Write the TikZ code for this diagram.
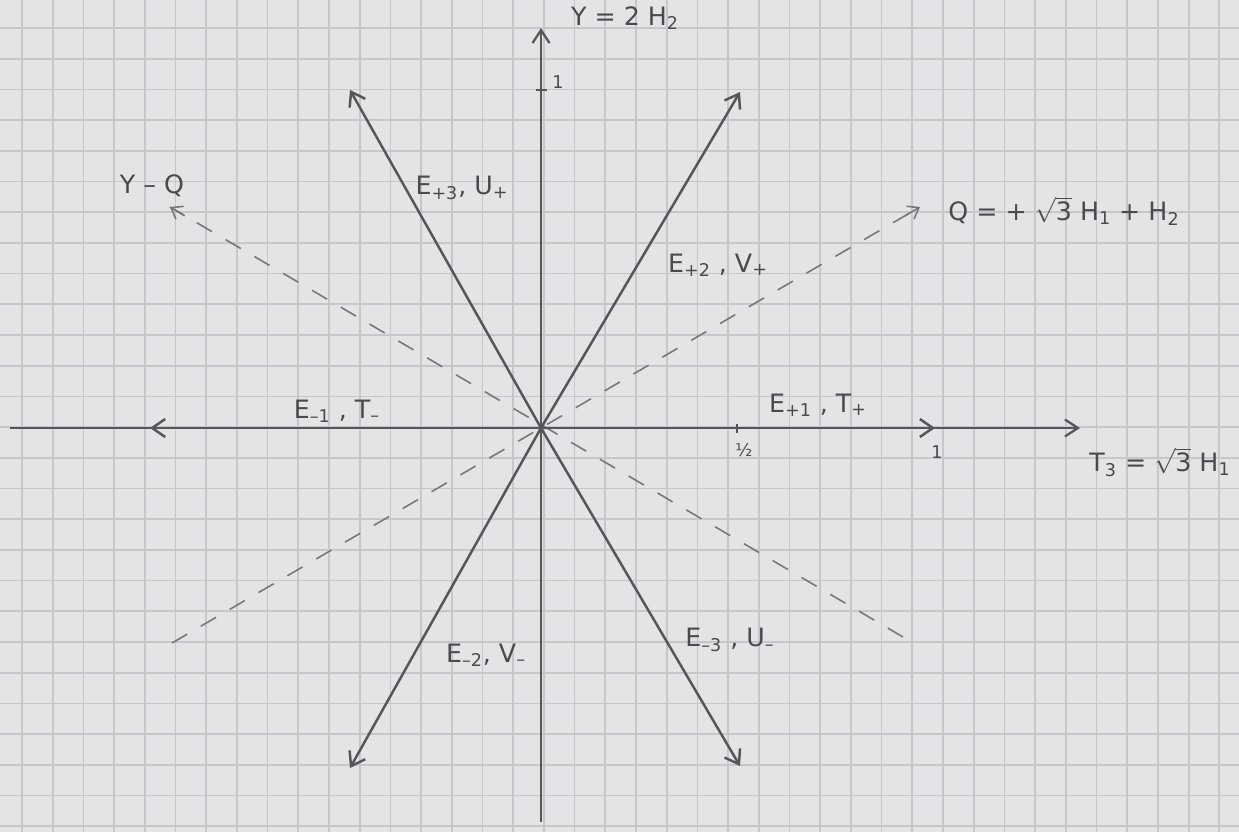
\documentclass[tikz,border=0pt]{standalone}
\usepackage{amsmath}
\usepackage{fontspec}
\setmainfont{DejaVu Sans}
\definecolor{paper}{HTML}{E4E4E7}
\definecolor{gridcol}{HTML}{C6C6CD}
\definecolor{pencil}{HTML}{55555A}
\definecolor{inkcol}{HTML}{4A4A4E}
\usetikzlibrary{arrows.meta,calc}

\tikzset{
  gridline/.style={gridcol, line width=1pt},
  axisline/.style={pencil, line width=1.3pt, -{Straight Barb[length=2.6mm,width=3.4mm]}},
  rootline/.style={pencil, line width=1.4pt, -{Straight Barb[length=2.6mm,width=3.6mm]}},
  chargeline/.style={pencil!80, line width=0.9pt, dash pattern=on 10pt off 9pt},
  lbl/.style={inkcol, font=\Large},
  ticklbl/.style={inkcol, font=\normalsize},
}

\begin{document}
\begin{tikzpicture}[x=0.02cm, y=-0.02cm]

% === Graph paper ===
\fill[paper] (0,0) rectangle (1239,832);
\useasboundingbox (0,0) rectangle (1239,832);
\foreach \i in {0,...,39}
  \draw[gridline] ({22+30.7*\i},0) -- ({22+30.7*\i},832);
\foreach \j in {0,...,26}
  \draw[gridline] (0,{28+30.7*\j}) -- (1239,{28+30.7*\j});

% === Axes ===
\coordinate (O) at (541,428);
\coordinate (xL) at (10,428);
\coordinate (xR) at (1080,428);
\coordinate (yB) at (541,822);
\coordinate (yT) at (541,28);
\draw[axisline] (xL) -- (xR);
\draw[axisline] (yB) -- (yT);

% === Charge directions (dashed) ===
\coordinate (qA) at (172,643);
\coordinate (qB) at (920,207);
\coordinate (yqA) at (903,637);
\coordinate (yqB) at (170,207);
\draw[chargeline] (qA) -- (qB);
\draw[chargeline] (yqA) -- (yqB);
\draw[pencil!80, line width=0.9pt, -{Straight Barb[length=2mm,width=3mm]}]
  ($(O)!0.96!(qB)$) -- (qB);
\draw[pencil!80, line width=0.9pt, -{Straight Barb[length=2mm,width=3mm]}]
  ($(O)!0.96!(yqB)$) -- (yqB);

% === Root vectors ===
\coordinate (e1p) at (935,428);
\coordinate (e1m) at (150,428);
\coordinate (e2p) at (740,92);
\coordinate (e2m) at (350,768);
\coordinate (e3p) at (350,90);
\coordinate (e3m) at (740,766);
\foreach \tip in {e1p,e1m,e2p,e2m,e3p,e3m}
  \draw[rootline] (O) -- (\tip);

% ticks
\draw[pencil, line width=1.2pt] (536,90) -- (547,90);
\draw[pencil, line width=1.2pt] (737,424) -- (737,433);

% === Labels ===
\node[lbl] (ylab) at (625,18) {Y = 2 H\textsubscript{2}};
\node[ticklbl] (yone) at (558,82) {1};
\node[lbl] (yqlab) at (152,186) {Y -- Q};
\node[lbl] (qlab) at (1064,211) {Q = + $\sqrt{\text{3}}$ H\textsubscript{1} + H\textsubscript{2}};
\node[lbl] (e3plab) at (462,188) {E\textsubscript{+3}, U\textsubscript{+}};
\node[lbl] (e2plab) at (718,265) {E\textsubscript{+2} , V\textsubscript{+}};
\node[lbl] (e1mlab) at (337,411) {E\textsubscript{--1} , T\textsubscript{--}};
\node[lbl] (e1plab) at (818,405) {E\textsubscript{+1} , T\textsubscript{+}};
\node[ticklbl] (half) at (744,450) {\textonehalf};
\node[ticklbl] (xone) at (937,452) {1};
\node[lbl] (xlab) at (1160,462) {T\textsubscript{3} = $\sqrt{\text{3}}$ H\textsubscript{1}};
\node[lbl] (e2mlab) at (486,655) {E\textsubscript{--2}, V\textsubscript{--}};
\node[lbl] (e3mlab) at (730,640) {E\textsubscript{--3} , U\textsubscript{--}};

\end{tikzpicture}
\end{document}
